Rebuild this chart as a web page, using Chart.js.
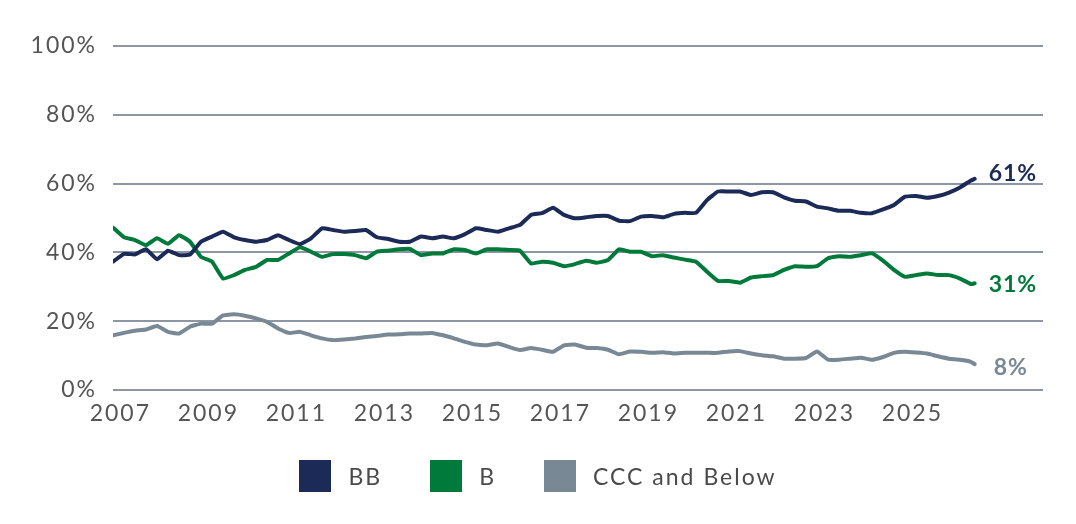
<!DOCTYPE html>
<html>
<head>
<meta charset="utf-8">
<script src="https://cdn.jsdelivr.net/npm/chart.js@4"></script>
<style>
  html, body { margin: 0; padding: 0; background: #fff; }
  #wrap { width: 1076px; height: 524px; position: relative; }
  #legenda {
    position: absolute; left: 0; top: 460px; width: 1076px;
    display: flex; justify-content: center; align-items: center;
    font-family: Lato, "Open Sans", sans-serif; font-size: 23px;
    letter-spacing: 2px; color: #4a4a4a;
  }
  #legenda .item { display: flex; align-items: center; margin: 0 24px; }
  #legenda .caixa { width: 32px; height: 32px; margin-right: 17px; }
</style>
</head>
<body>
<div id="wrap">
  <canvas id="grafico"></canvas>
  <div id="legenda"></div>
</div>
<script>
// quarterly observations (year-month)
const periodos = [
  "2006-11",
  "2007-02", "2007-05", "2007-08", "2007-11",
  "2008-02", "2008-05", "2008-08", "2008-11",
  "2009-02", "2009-05", "2009-08", "2009-11",
  "2010-02", "2010-05", "2010-08", "2010-11",
  "2011-02", "2011-05", "2011-08", "2011-11",
  "2012-02", "2012-05", "2012-08", "2012-11",
  "2013-02", "2013-05", "2013-08", "2013-11",
  "2014-02", "2014-05", "2014-08", "2014-11",
  "2015-02", "2015-05", "2015-08", "2015-11",
  "2016-02", "2016-05", "2016-08", "2016-11",
  "2017-02", "2017-05", "2017-08", "2017-11",
  "2018-02", "2018-05", "2018-08", "2018-11",
  "2019-02", "2019-05", "2019-08", "2019-11",
  "2020-02", "2020-05", "2020-08", "2020-11",
  "2021-02", "2021-05", "2021-08", "2021-11",
  "2022-02", "2022-05", "2022-08", "2022-11",
  "2023-02", "2023-05", "2023-08", "2023-11",
  "2024-02", "2024-05", "2024-08", "2024-11",
  "2025-02", "2025-05", "2025-08", "2025-11",
  "2026-02", "2026-05", "2026-06"
];

const seriesBB = [
  37.3, 39.6, 39.4, 40.9, 38.0, 40.5, 39.2, 39.4, 43.1, 44.6,
  46.0, 44.4, 43.6, 43.1, 43.6, 45.0, 43.6, 42.4, 44.1, 47.0,
  46.5, 46.0, 46.2, 46.5, 44.4, 43.9, 43.1, 43.1, 44.6, 44.1,
  44.6, 44.1, 45.3, 47.0, 46.5, 46.0, 47.0, 48.0, 50.9,
  51.4, 53.0, 50.9, 49.9, 50.2, 50.6, 50.6, 49.2, 49.1, 50.4,
  50.6, 50.2, 51.2, 51.5, 51.5, 55.2, 57.7, 57.7, 57.7, 56.7,
  57.5, 57.5, 56.0, 55.0, 54.8, 53.3, 52.8, 52.1, 52.1, 51.5,
  51.4, 52.5, 53.8, 56.2, 56.4, 55.9, 56.4, 57.4, 58.9, 60.9, 61.4
];

const seriesB = [
  47.2, 44.4, 43.6, 42.1, 44.1, 42.5, 45.0, 43.1, 38.7, 37.3,
  32.4, 33.4, 34.9, 35.8, 37.8, 37.8, 39.7, 41.5, 40.2, 38.7,
  39.5, 39.5, 39.2, 38.3, 40.2, 40.5, 40.9, 41.0, 39.2, 39.7,
  39.7, 40.9, 40.7, 39.7, 40.9, 40.9, 40.7, 40.5, 36.8,
  37.3, 37.0, 36.0, 36.6, 37.6, 37.0, 37.8, 40.9, 40.2, 40.2,
  38.9, 39.2, 38.5, 37.9, 37.3, 34.4, 31.7, 31.7, 31.2, 32.7,
  33.1, 33.4, 34.9, 36.0, 35.8, 36.0, 38.3, 38.9, 38.7, 39.2,
  39.7, 37.6, 34.9, 32.9, 33.4, 33.9, 33.4, 33.4, 32.4, 30.8, 31.0
];

const seriesCCC = [
  15.9, 16.6, 17.2, 17.6, 18.6, 16.9, 16.4, 18.4, 19.3, 19.3,
  21.7, 22.0, 21.6, 20.8, 19.8, 17.9, 16.6, 16.9, 15.9, 15.0,
  14.5, 14.7, 15.0, 15.4, 15.7, 16.1, 16.2, 16.4, 16.4, 16.6,
  15.9, 15.0, 14.0, 13.2, 13.0, 13.5, 12.5, 11.6, 12.2,
  11.7, 11.1, 13.0, 13.2, 12.3, 12.2, 11.7, 10.4, 11.2, 11.1,
  10.8, 11.0, 10.6, 10.8, 10.8, 10.8, 10.8, 11.2, 11.3, 10.6,
  10.1, 9.8, 9.1, 9.1, 9.3, 11.2, 8.8, 8.8, 9.1, 9.4,
  8.8, 9.6, 10.8, 11.1, 10.9, 10.6, 9.8, 9.1, 8.8, 8.2, 7.5
];

const anosEixo = [2007, 2009, 2011, 2013, 2015, 2017, 2019, 2021, 2023, 2025];
const marcasY = [0, 20, 40, 60, 80, 100];

const nomes = ["BB", "B", "CCC and Below"];
const cores = ["#1b2a56", "#007a3a", "#798895"];

function paraAno(p) {
  const [a, m] = p.split("-").map(Number);
  return a + (m - 1) / 12;
}

function pontos(valores) {
  return valores.map((v, i) => ({ x: paraAno(periodos[i]), y: v }));
}

const FONTE = "Lato, 'Open Sans', sans-serif";

// the original typeface is wider than Lato, so open the letters a bit
const espacamento = {
  id: "espacamento",
  beforeLayout(chart) {
    chart.ctx.letterSpacing = "2px";
  },
  beforeDraw(chart) {
    chart.ctx.letterSpacing = "2px";
  }
};

// end-of-line value labels
const rotulosFinais = {
  id: "rotulosFinais",
  afterDatasetsDraw(chart) {
    const ctx = chart.ctx;
    ctx.save();
    ctx.letterSpacing = "1px";
    ctx.font = "bold 23px " + FONTE;
    ctx.textBaseline = "middle";
    ctx.textAlign = "left";
    const ajusteY = [-5, 1, 3];
    const ajusteX = [14, 14, 19];
    chart.data.datasets.forEach((ds, i) => {
      const meta = chart.getDatasetMeta(i);
      const ultimo = meta.data[meta.data.length - 1];
      const valor = ds.data[ds.data.length - 1].y;
      ctx.fillStyle = ds.borderColor;
      ctx.fillText(Math.round(valor) + "%", ultimo.x + ajusteX[i], ultimo.y + ajusteY[i]);
    });
    ctx.restore();
  }
};

// legend as html below the plot
const legenda = document.getElementById("legenda");
nomes.forEach((nome, i) => {
  const item = document.createElement("div");
  item.className = "item";
  const caixa = document.createElement("span");
  caixa.className = "caixa";
  caixa.style.background = cores[i];
  const texto = document.createElement("span");
  texto.textContent = nome;
  item.appendChild(caixa);
  item.appendChild(texto);
  legenda.appendChild(item);
});

const canvas = document.getElementById("grafico");

new Chart(canvas, {
  type: "line",
  data: {
    datasets: [
      { label: nomes[0], data: pontos(seriesBB), borderColor: cores[0], backgroundColor: cores[0] },
      { label: nomes[1], data: pontos(seriesB), borderColor: cores[1], backgroundColor: cores[1] },
      { label: nomes[2], data: pontos(seriesCCC), borderColor: cores[2], backgroundColor: cores[2] }
    ]
  },
  options: {
    responsive: true,
    maintainAspectRatio: false,
    animation: false,
    layout: { padding: { top: 46, right: 0, bottom: 89, left: 0 } },
    elements: {
      line: { borderWidth: 4, tension: 0.12, borderCapStyle: "round", borderJoinStyle: "round" },
      point: { radius: 0 }
    },
    plugins: {
      tooltip: { enabled: false },
      legend: { display: false }
    },
    scales: {
      x: {
        type: "linear",
        min: 2006.833,
        max: 2027.97,
        grid: { display: false, drawTicks: false },
        border: { display: false },
        afterBuildTicks(scale) {
          scale.ticks = anosEixo.map((a) => ({ value: a }));
        },
        afterFit(scale) {
          scale.height = 45;
        },
        ticks: {
          padding: 10,
          color: "#555555",
          font: { family: FONTE, size: 23 },
          maxRotation: 0,
          callback: (v) => String(v)
        }
      },
      y: {
        min: 0,
        max: 100,
        afterBuildTicks(scale) {
          scale.ticks = marcasY.map((v) => ({ value: v }));
        },
        afterFit(scale) {
          scale.width = 113;
        },
        grid: { color: "#8c97a3", lineWidth: 2, drawTicks: false },
        border: { display: false },
        ticks: {
          padding: 16,
          color: "#555555",
          font: { family: FONTE, size: 23 },
          callback: (v) => v + "%"
        }
      },
      margemDireita: {
        position: "right",
        min: 0,
        max: 100,
        afterFit(scale) {
          scale.width = 33;
        },
        grid: { display: false, drawTicks: false },
        border: { display: false },
        ticks: { display: false }
      }
    }
  },
  plugins: [espacamento, rotulosFinais]
});
</script>
</body>
</html>
